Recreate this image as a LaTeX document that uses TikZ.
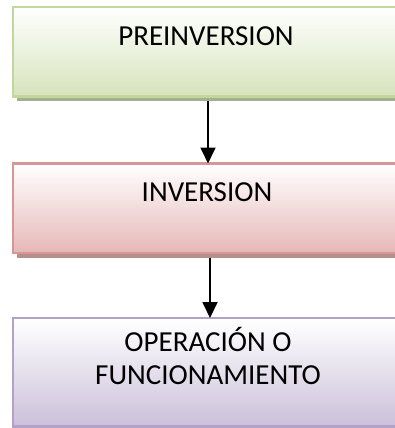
\documentclass[tikz,border=0pt]{standalone}
\usepackage{fontspec}
\setmainfont{Carlito}
\usetikzlibrary{arrows.meta}
\definecolor{gfill}{HTML}{D7E4BD}
\definecolor{gline}{HTML}{C3D69B}
\definecolor{gshadow}{HTML}{A3AE93}
\definecolor{rfill}{HTML}{E6B9B8}
\definecolor{rline}{HTML}{D99694}
\definecolor{rshadow}{HTML}{B58F8E}
\definecolor{pfill}{HTML}{CCC1DA}
\definecolor{pline}{HTML}{B3A2C7}
\tikzset{
  stagebox/.style={rectangle, minimum width=440pt, inner sep=0pt, anchor=north west},
  stageedge/.style={line width=2.2pt, line join=miter},
  stagetext/.style={font=\fontsize{29}{33}\selectfont, align=center, inner sep=0pt},
  flowarrow/.style={line width=1.8pt, -{Triangle[width=15pt,length=16pt]}}
}
% gradient strips: #1 colour, #2 top y, #3 height
\newcommand{\gradstrips}[3]{%
  \foreach \i in {0,...,59}{%
    \pgfmathsetmacro{\pct}{\i*100/59}%
    \fill[#1!\pct!white] (13,{#2+\i*#3/60}) rectangle (460,{#2+(\i+1)*#3/60+0.4});
  }}
\begin{document}
\begin{tikzpicture}[x=1pt,y=-1pt]
\useasboundingbox (0,0) rectangle (395,428);
\clip (0,0) rectangle (395,428);
% shadows
\fill[gshadow] (17,96) rectangle (460,101);
\fill[rshadow] (17,252.5) rectangle (460,257.5);
% gradients
\gradstrips{gfill}{7}{89}
\gradstrips{rfill}{163.5}{89}
\gradstrips{pfill}{318}{108}
% boxes (right side runs off the picture)
\node[stagebox, minimum height=89pt] (b1) at (13,7) {};
\node[stagebox, minimum height=89pt] (b2) at (13,163.5) {};
\node[stagebox, minimum height=108pt] (b3) at (13,318) {};
\draw[stageedge, draw=gline] (b1.north east) -- (b1.north west) -- (b1.south west) -- (b1.south east);
\draw[stageedge, draw=rline] (b2.north east) -- (b2.north west) -- (b2.south west) -- (b2.south east);
\draw[stageedge, draw=pline] (b3.north east) -- (b3.north west) -- (b3.south west) -- (b3.south east);
% texts
\node[stagetext] (t1) at (206,36) {PREINVERSION};
\node[stagetext] (t2) at (207,192) {INVERSION};
\node[stagetext] (t3) at (208,356) {OPERACIÓN O\\FUNCIONAMIENTO};
% arrows
\coordinate (a1s) at (208,101);
\coordinate (a2s) at (210,257.5);
\draw[flowarrow] (a1s) -- (b2.north -| a1s);
\draw[flowarrow] (a2s) -- (b3.north -| a2s);
\end{tikzpicture}
\end{document}
